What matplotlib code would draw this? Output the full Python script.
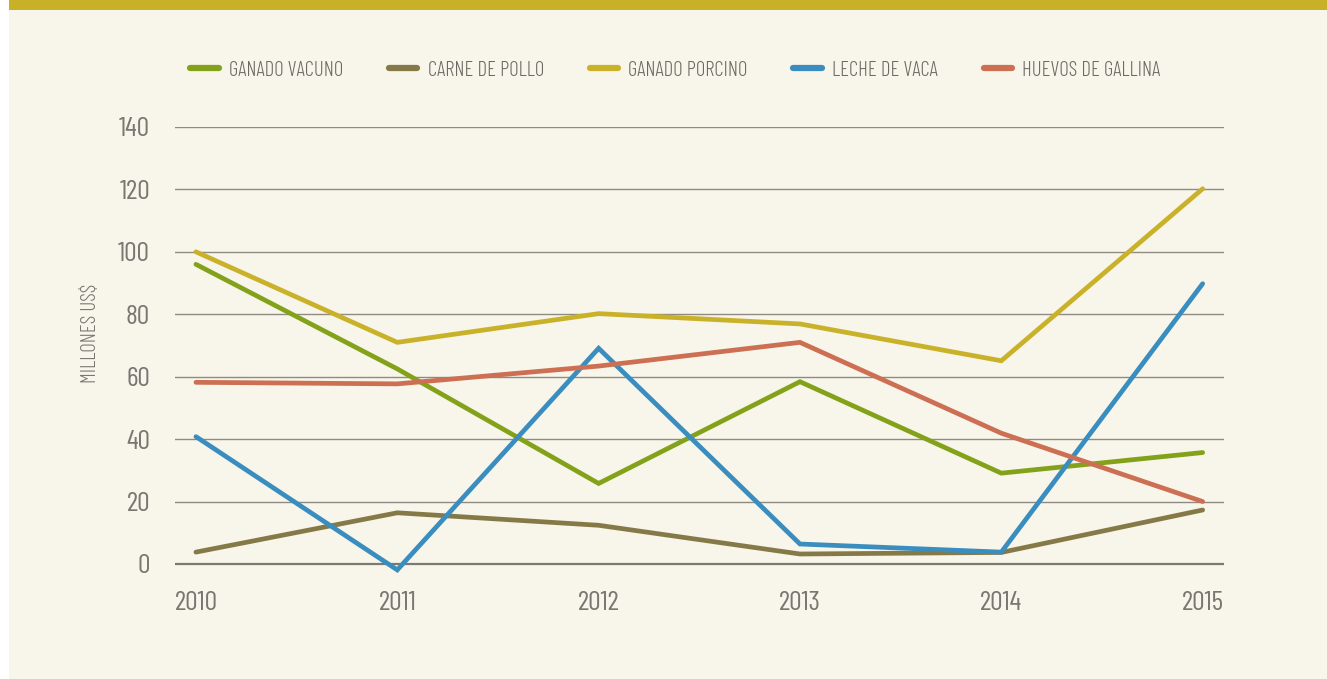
import numpy as np
import matplotlib
matplotlib.use('Agg')
import matplotlib.pyplot as plt
from matplotlib.patches import Rectangle

plt.rcParams['font.family'] = ['Barlow Condensed', 'DejaVu Sans']
plt.rcParams['font.weight'] = 300

# data
years = [2010, 2011, 2012, 2013, 2014, 2015]
ganado_vacuno = [96.0, 62.5, 25.8, 58.4, 29.1, 35.7]
carne_pollo = [3.8, 16.4, 12.4, 3.2, 3.7, 17.3]
ganado_porcino = [100.0, 71.0, 80.2, 76.9, 65.1, 120.2]
leche_vaca = [40.8, -1.9, 69.1, 6.4, 3.8, 89.8]
huevos_gallina = [58.2, 57.7, 63.4, 71.0, 41.9, 20.0]

series_names = ['GANADO VACUNO', 'CARNE DE POLLO', 'GANADO PORCINO',
                'LECHE DE VACA', 'HUEVOS DE GALLINA']
series_values = [ganado_vacuno, carne_pollo, ganado_porcino, leche_vaca, huevos_gallina]
colors = ['#83a21a', '#857a47', '#c9b22a', '#3a8dbf', '#cc6f52']
y_ticks = [0, 20, 40, 60, 80, 100, 120, 140]

bg = '#f8f5ea'
txt = '#7a7672'
grid_c = '#8f8a84'

fig = plt.figure(figsize=(13.27, 6.79), dpi=100, facecolor='white')
# cream panel and gold band on top (behind the axes)
fig.patches.append(Rectangle((9 / 1327, 0), 1 - 9 / 1327, 1, transform=fig.transFigure,
                             facecolor=bg, edgecolor='none', zorder=-10))
fig.patches.append(Rectangle((9 / 1327, 1 - 10 / 679), 1 - 9 / 1327, 10 / 679,
                             transform=fig.transFigure, facecolor='#c8b128',
                             edgecolor='none', zorder=-9))

ax = fig.add_axes([175 / 1327, 0.1464, (1224 - 175) / 1327, 0.6666])
ax.set_facecolor('none')

for name, vals, c in zip(series_names, series_values, colors):
    ax.plot(years, vals, color=c, lw=3.4, label=name, solid_capstyle='round',
            solid_joinstyle='miter', clip_on=False, zorder=3)

for y in y_ticks:
    if y == 0:
        ax.axhline(y, color='#7d7873', lw=1.6, zorder=2)
    else:
        ax.axhline(y, color=grid_c, lw=1.0, zorder=1)

ax.set_xlim(2009.896, 2015.106)
ax.set_ylim(-5, 140)
ax.set_xticks(years)
ax.set_xticklabels([str(y) for y in years])
ax.set_yticks(y_ticks)
ax.tick_params(axis='both', length=0, colors=txt, labelsize=20)
ax.tick_params(axis='y', pad=18)
ax.tick_params(axis='x', pad=8)
for lbl in ax.get_xticklabels() + ax.get_yticklabels():
    lbl.set_fontweight(400)
for s in ax.spines.values():
    s.set_visible(False)

fig.text(90 / 1327, 1 - 333 / 679, 'MILLONES US$', rotation=90, color=txt,
         fontsize=15, ha='center', va='center')

leg = fig.legend(loc='center', bbox_to_anchor=(0.509, 1 - 70 / 679), ncol=5,
                 frameon=False, fontsize=15, handlelength=1.35, handletextpad=0.5,
                 columnspacing=2.2)
for t in leg.get_texts():
    t.set_color('#6d6a66')
for h in leg.get_lines():
    h.set_linewidth(4.5)
    h.set_solid_capstyle('round')

fig.savefig('out.png', dpi=100, facecolor=fig.get_facecolor())
